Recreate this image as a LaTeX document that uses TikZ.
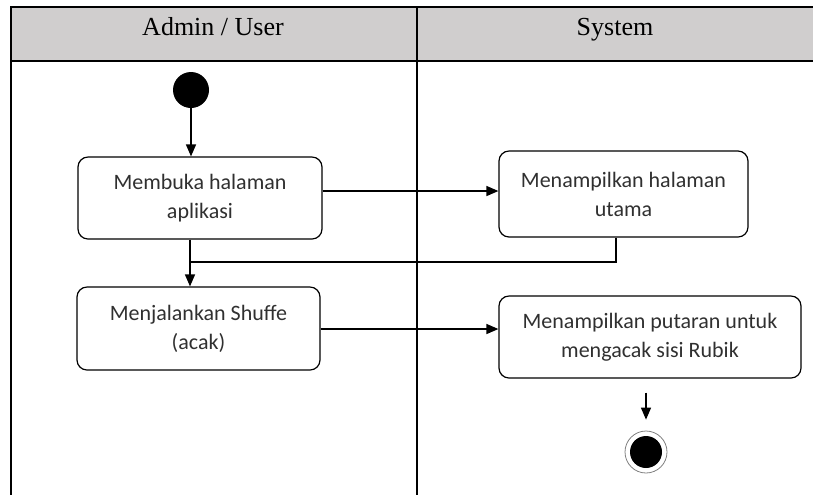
\documentclass[tikz,border=0pt]{standalone}
\usepackage{fontspec}
\setmainfont{Carlito}
\newfontfamily\headfont{Liberation Serif}
\usetikzlibrary{arrows.meta,calc,positioning}
\definecolor{lanegray}{HTML}{D0CECE}
\definecolor{textgray}{HTML}{303030}

\begin{document}
\begin{tikzpicture}[x=0.5pt,y=-0.5pt,
	activity/.style={draw,rounded corners=5pt,line width=0.6pt,align=center,inner sep=0pt,
		text=textgray,font=\fontsize{11}{14.5}\selectfont},
	flow/.style={-{Triangle[length=6pt,width=5pt]},line width=0.7pt},
	lane/.style={line width=0.8pt},
	lanehead/.style={anchor=base,font=\headfont\fontsize{13}{15}\selectfont}]
		\useasboundingbox (0,0) rectangle (813,495);
		% swimlanes
		\fill[lanegray] (11,7) rectangle (813,61);
		\draw[lane] (813,7) -- (11,7) -- (11,495);
		\draw[lane] (11,61) -- (813,61);
		\draw[lane] (417,7) -- (417,495);
		\node[lanehead] (admin) at (213,35) {Admin / User};
		\node[lanehead] (system) at (615,35) {System};
		% activities
		\node[circle,fill=black,minimum size=18pt,inner sep=0pt] (start) at (191,90) {};
		\node[activity,minimum width=122pt,minimum height=41pt] (buka) at (200,198) {Membuka halaman\\aplikasi};
		\node[activity,minimum width=124.5pt,minimum height=43pt] (utama) at (623.5,194) {Menampilkan halaman\\utama};
		\node[activity,minimum width=121.5pt,minimum height=41.5pt] (shuffle) at (198.5,328.5) {Menjalankan Shuffe\\(acak)};
		\node[activity,minimum width=151pt,minimum height=41pt] (putar) at (650,337) {Menampilkan putaran untuk\\mengacak sisi Rubik};
		\node[circle,draw=gray,line width=0.4pt,minimum size=21pt,inner sep=0pt] (stop) at (646,452) {};
		\fill[black] (stop) circle (8pt);
		% connectors
		\coordinate (r1) at (0,191);
		\coordinate (r2) at (0,329);
		\coordinate (j1) at (190,262);
		\coordinate (j2) at (616,262);
		\draw[flow] (start) -- (start |- buka.north);
		\draw[flow] (buka.east |- r1) -- (utama.west |- r1);
		\draw[line width=0.7pt] (utama.south -| j2) -- (j2) -- (j1);
		\draw[flow] (buka.south -| j1) -- (shuffle.north -| j1);
		\draw[flow] (shuffle.east |- r2) -- (putar.west |- r2);
		\draw[flow] ([yshift=-7pt]putar.south -| stop) -- ([yshift=5.5pt]stop.north);
\end{tikzpicture}
\end{document}
